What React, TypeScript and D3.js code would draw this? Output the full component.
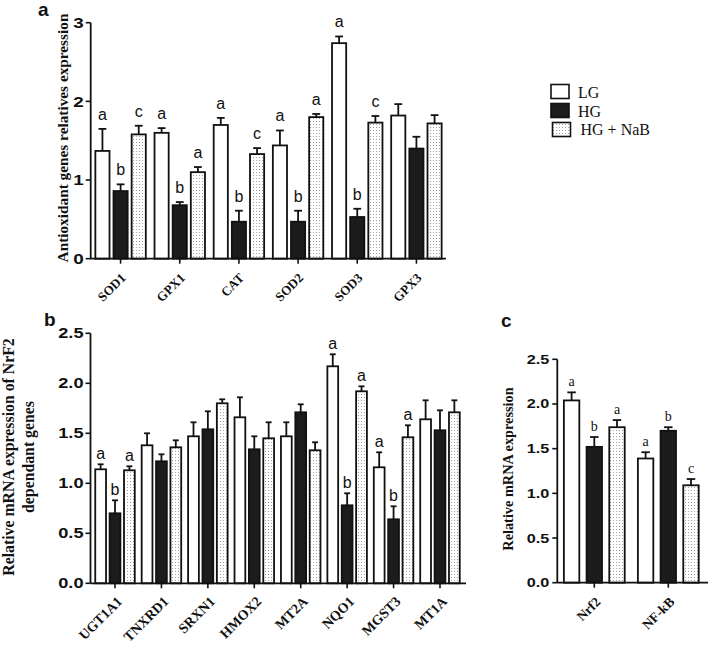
import React from "react";
import * as d3 from "d3";

const seriesNames = ["LG", "HG", "HG + NaB"];

// Panel a
const aGenes = ["SOD1", "GPX1", "CAT", "SOD2", "SOD3", "GPX3"];
const aLG = [1.37, 1.6, 1.7, 1.44, 2.74, 1.82];
const aLGErr = [0.28, 0.06, 0.09, 0.19, 0.085, 0.145];
const aHG = [0.86, 0.68, 0.47, 0.47, 0.53, 1.4];
const aHGErr = [0.085, 0.04, 0.14, 0.14, 0.105, 0.15];
const aNaB = [1.58, 1.1, 1.33, 1.8, 1.73, 1.72];
const aNaBErr = [0.11, 0.065, 0.076, 0.04, 0.084, 0.105];
const aLGLetters = ["a", "a", "a", "a", "a", ""];
const aHGLetters = ["b", "b", "b", "b", "b", ""];
const aNaBLetters = ["c", "a", "c", "a", "c", ""];
const aTicks = [0, 1, 2, 3];

// Panel b
const bGenes = ["UGT1A1", "TNXRD1", "SRXN1", "HMOX2", "MT2A", "NQO1", "MGST3", "MT1A"];
const bLG = [1.14, 1.38, 1.47, 1.66, 1.47, 2.17, 1.16, 1.64];
const bLGErr = [0.05, 0.12, 0.14, 0.2, 0.14, 0.12, 0.15, 0.19];
const bHG = [0.7, 1.22, 1.54, 1.34, 1.71, 0.78, 0.64, 1.53];
const bHGErr = [0.13, 0.07, 0.18, 0.13, 0.08, 0.12, 0.13, 0.2];
const bNaB = [1.13, 1.36, 1.8, 1.45, 1.33, 1.92, 1.46, 1.71];
const bNaBErr = [0.04, 0.07, 0.04, 0.16, 0.08, 0.05, 0.12, 0.12];
const bLGLetters = ["a", "", "", "", "", "a", "a", ""];
const bHGLetters = ["b", "", "", "", "", "b", "b", ""];
const bNaBLetters = ["a", "", "", "", "", "a", "a", ""];
const bTicks = [0, 0.5, 1, 1.5, 2, 2.5];

// Panel c
const cGenes = ["Nrf2", "NF-kB"];
const cLG = [2.04, 1.39];
const cLGErr = [0.09, 0.07];
const cHG = [1.52, 1.7];
const cHGErr = [0.11, 0.04];
const cNaB = [1.74, 1.09];
const cNaBErr = [0.08, 0.07];
const cLGLetters = ["a", "a"];
const cHGLetters = ["b", "b"];
const cNaBLetters = ["a", "c"];
const cTicks = [0, 0.5, 1, 1.5, 2, 2.5];

const SANS = "'Liberation Sans', Arial, sans-serif";
const SERIF = "'Liberation Serif', 'Times New Roman', serif";
const fills = ["#ffffff", "#1c1c1c", "url(#dots)"];

type PanelProps = {
  genes: string[];
  values: number[][];
  errs: number[][];
  letters: string[][];
  ticks: number[];
  fmt: (v: number) => string;
  yMax: number;
  yRange: [number, number];
  xRange: [number, number];
  axisX: [number, number];
  outerPad: number;
  innerPad: number;
  tickFont: number;
  tickGap: number;
  letterFont: string;
  letterSize: number;
  letterGap: number;
  labelSize: number;
  labelDx: number;
  labelDy: number;
};

function Panel(p: PanelProps) {
  const y = d3.scaleLinear().domain([0, p.yMax]).range(p.yRange);
  const x0 = d3.scaleBand<string>().domain(p.genes).range(p.xRange).padding(0);
  const x1 = d3
    .scaleBand<string>()
    .domain(seriesNames)
    .range([0, x0.bandwidth()])
    .paddingInner(p.innerPad)
    .paddingOuter(p.outerPad);
  const bw = x1.bandwidth();
  const cap = bw * 0.55;
  const base = y(0);
  return (
    <g>
      {p.genes.map((g, gi) =>
        seriesNames.map((s, si) => {
          const v = p.values[si][gi];
          const e = p.errs[si][gi];
          const bx = (x0(g) as number) + (x1(s) as number);
          const cx = bx + bw / 2;
          const top = y(v);
          const et = y(v + e);
          const letter = p.letters[si][gi];
          return (
            <g key={g + s}>
              <line x1={cx} x2={cx} y1={top} y2={et} stroke="#111" strokeWidth={1.8} />
              <line x1={cx - cap / 2} x2={cx + cap / 2} y1={et} y2={et} stroke="#111" strokeWidth={1.8} />
              <rect x={bx} y={top} width={bw} height={base - top} fill={fills[si]} stroke="#111" strokeWidth={1.8} />
              {letter && (
                <text x={cx} y={et - p.letterGap} textAnchor="middle" fontFamily={p.letterFont} fontSize={p.letterSize} fill="#111">
                  {letter}
                </text>
              )}
            </g>
          );
        })
      )}
      {/* y axis */}
      <line x1={p.axisX[0]} x2={p.axisX[0]} y1={y(p.yMax)} y2={base} stroke="#111" strokeWidth={1.8} />
      {p.ticks.map((t) => (
        <g key={t}>
          <line x1={p.axisX[0] - 5} x2={p.axisX[0]} y1={y(t)} y2={y(t)} stroke="#111" strokeWidth={1.6} />
          <text
            transform={`translate(${p.axisX[0] - p.tickGap},${y(t)}) scale(1.3,1)`}
            dy="0.36em"
            textAnchor="end"
            fontFamily={SANS}
            fontWeight="bold"
            fontSize={p.tickFont}
            fill="#111"
          >
            {p.fmt(t)}
          </text>
        </g>
      ))}
      {/* x axis */}
      <line x1={p.axisX[0]} x2={p.axisX[1]} y1={base} y2={base} stroke="#111" strokeWidth={1.8} />
      {p.genes.map((g) => {
        const cx = (x0(g) as number) + x0.bandwidth() / 2;
        return (
          <g key={g}>
            <line x1={cx} x2={cx} y1={base} y2={base + 5} stroke="#111" strokeWidth={1.6} />
            <text
              transform={`translate(${cx + p.labelDx},${base + p.labelDy}) rotate(-45)`}
              textAnchor="end"
              fontFamily={SERIF}
              fontWeight="bold"
              fontSize={p.labelSize}
              fill="#111"
            >
              {g}
            </text>
          </g>
        );
      })}
    </g>
  );
}

export default function App() {
  return (
    <svg width={709} height={648} style={{ position: "absolute", left: 0, top: 0, background: "#fff" }}>
      <defs>
        <pattern id="dots" width={3} height={3} patternUnits="userSpaceOnUse">
          <rect width={3} height={3} fill="#fff" />
          <rect x={1} y={1} width={0.9} height={0.9} fill="#8a8a8a" />
        </pattern>
      </defs>
      <rect width={709} height={648} fill="#fff" />

      {/* Panel labels */}
      <text x={38} y={16} fontFamily={SANS} fontWeight="bold" fontSize={19} fill="#111">a</text>
      <text x={44} y={326} fontFamily={SANS} fontWeight="bold" fontSize={19} fill="#111">b</text>
      <text x={501} y={327} fontFamily={SANS} fontWeight="bold" fontSize={19} fill="#111">c</text>

      {/* Y titles */}
      <text transform="translate(63,138) rotate(-90)" dy="0.35em" textAnchor="middle" fontFamily={SERIF} fontWeight="bold" fontSize={15.3} fill="#111">
        Antioxidant genes relatives expression
      </text>
      <text transform="translate(8,457) rotate(-90)" dy="0.35em" textAnchor="middle" fontFamily={SERIF} fontWeight="bold" fontSize={15.8} fill="#111">
        Relative mRNA expression of NrF2
      </text>
      <text transform="translate(28,457) rotate(-90)" dy="0.35em" textAnchor="middle" fontFamily={SERIF} fontWeight="bold" fontSize={15.8} fill="#111">
        dependant genes
      </text>
      <text transform="translate(508,469) rotate(-90)" dy="0.35em" textAnchor="middle" fontFamily={SERIF} fontWeight="bold" fontSize={14.3} fill="#111">
        Relative mRNA expression
      </text>

      <Panel
        genes={aGenes}
        values={[aLG, aHG, aNaB]}
        errs={[aLGErr, aHGErr, aNaBErr]}
        letters={[aLGLetters, aHGLetters, aNaBLetters]}
        ticks={aTicks}
        fmt={d3.format("d")}
        yMax={3}
        yRange={[258.7, 22.7]}
        xRange={[91, 446]}
        axisX={[90.7, 446]}
        outerPad={0.24}
        innerPad={0.22}
        tickFont={14.5}
        tickGap={7}
        letterFont={SANS}
        letterSize={16}
        letterGap={9}
        labelSize={13}
        labelDx={6}
        labelDy={20}
      />
      <Panel
        genes={bGenes}
        values={[bLG, bHG, bNaB]}
        errs={[bLGErr, bHGErr, bNaBErr]}
        letters={[bLGLetters, bHGLetters, bNaBLetters]}
        ticks={bTicks}
        fmt={d3.format(".1f")}
        yMax={2.5}
        yRange={[583.3, 333.3]}
        xRange={[91.8, 463.2]}
        axisX={[90.5, 466]}
        outerPad={0.24}
        innerPad={0.25}
        tickFont={14}
        tickGap={7}
        letterFont={SANS}
        letterSize={16}
        letterGap={5}
        labelSize={14}
        labelDx={8}
        labelDy={19}
      />
      <Panel
        genes={cGenes}
        values={[cLG, cHG, cNaB]}
        errs={[cLGErr, cHGErr, cNaBErr]}
        letters={[cLGLetters, cHGLetters, cNaBLetters]}
        ticks={cTicks}
        fmt={d3.format(".1f")}
        yMax={2.5}
        yRange={[582.7, 359.3]}
        xRange={[557.3, 705.3]}
        axisX={[557.3, 708]}
        outerPad={0.29}
        innerPad={0.32}
        tickFont={12.5}
        tickGap={8}
        letterFont={SERIF}
        letterSize={14}
        letterGap={6}
        labelSize={13.5}
        labelDx={7}
        labelDy={20}
      />

      {/* Legend */}
      <rect x={551} y={84.5} width={18} height={14} fill={fills[0]} stroke="#111" strokeWidth={1.6} />
      <rect x={551} y={103.5} width={18} height={14} fill={fills[1]} stroke="#111" strokeWidth={1.6} />
      <rect x={552.5} y={122.5} width={18} height={14} fill={fills[2]} stroke="#111" strokeWidth={1.6} />
      <text x={578} y={97.5} fontFamily={SERIF} fontSize={16} fill="#111">{seriesNames[0]}</text>
      <text x={578} y={116.5} fontFamily={SERIF} fontSize={16} fill="#111">{seriesNames[1]}</text>
      <text x={580.5} y={135} fontFamily={SERIF} fontSize={16} fill="#111">{seriesNames[2]}</text>
    </svg>
  );
}
